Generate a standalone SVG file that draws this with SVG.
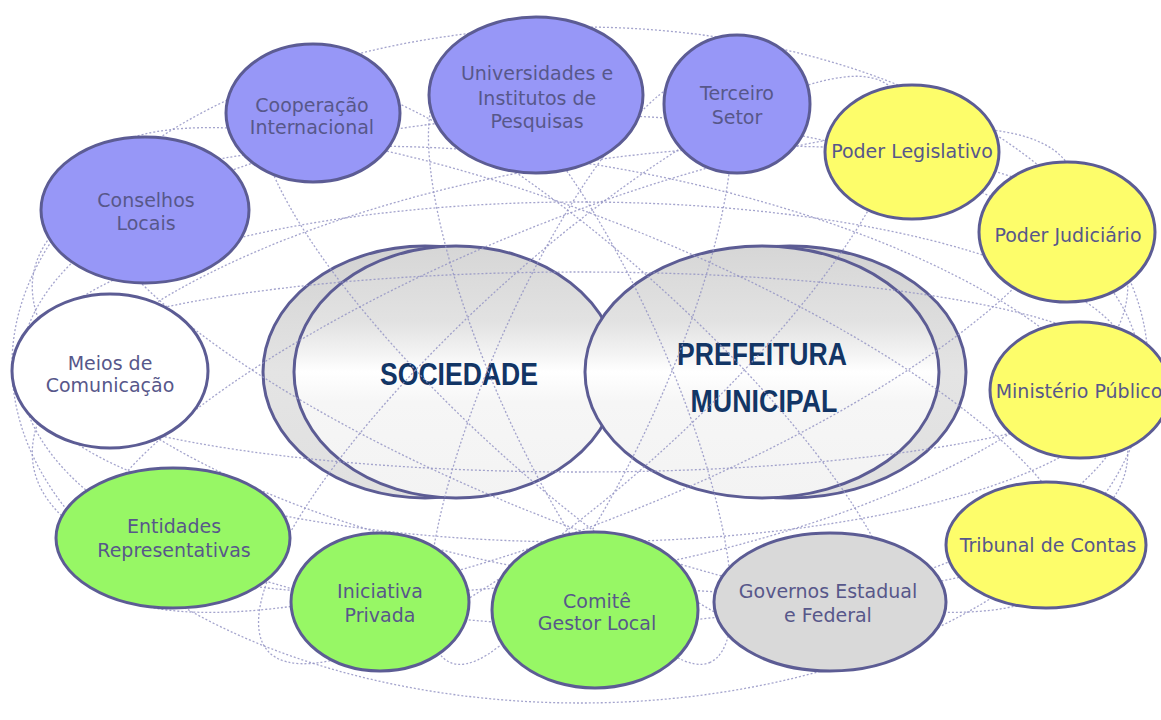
<svg xmlns="http://www.w3.org/2000/svg" width="1161" height="720" viewBox="0 0 1161 720">
  <defs>
    <linearGradient id="gloss" x1="0" y1="0" x2="0" y2="1">
      <stop offset="0" stop-color="#d6d6d6"/>
      <stop offset="0.3" stop-color="#e2e2e2"/>
      <stop offset="0.42" stop-color="#f2f2f2"/>
      <stop offset="0.5" stop-color="#ffffff"/>
      <stop offset="0.62" stop-color="#f6f6f6"/>
      <stop offset="1" stop-color="#f3f3f3"/>
    </linearGradient>
    <linearGradient id="glossBack" x1="0" y1="0" x2="0" y2="1">
      <stop offset="0" stop-color="#d2d2d2"/>
      <stop offset="0.5" stop-color="#e4e4e4"/>
      <stop offset="1" stop-color="#e0e0e0"/>
    </linearGradient>
    <style>
      .node { stroke: #5c5c94; stroke-width: 3; }
      .purple { fill: #9797f7; }
      .yellow { fill: #fdfd6a; }
      .green { fill: #97f765; }
      .grey { fill: #d9d9d9; }
      .white { fill: #ffffff; }
      .lbl { font-family: "DejaVu Sans", "Liberation Sans", sans-serif; font-size: 19px; fill: #57578a; text-anchor: middle; }
      .core { font-family: "Liberation Sans", Arial, sans-serif; font-weight: bold; font-size: 32px; fill: #123565; text-anchor: middle; }
      .orbit { fill: none; stroke: #9494c4; stroke-width: 1.3; stroke-dasharray: 2 2; opacity: 0.85; }
    </style>
  </defs>

  <rect width="1161" height="720" fill="#ffffff"/>

  <!-- central pair -->
  <g id="sociedade">
    <ellipse cx="425" cy="372" rx="162" ry="126" fill="url(#glossBack)" class="node"/>
    <ellipse cx="456" cy="372" rx="162" ry="126" fill="url(#gloss)" class="node"/>
    <text class="core" x="459" y="385" textLength="158" lengthAdjust="spacingAndGlyphs">SOCIEDADE</text>
  </g>
  <g id="prefeitura">
    <ellipse cx="790" cy="372" rx="176" ry="126" fill="url(#glossBack)" class="node"/>
    <ellipse cx="762" cy="372" rx="177" ry="126" fill="url(#gloss)" class="node"/>
    <text class="core" x="762" y="365" textLength="170" lengthAdjust="spacingAndGlyphs">PREFEITURA</text>
    <text class="core" x="764" y="412" textLength="147" lengthAdjust="spacingAndGlyphs">MUNICIPAL</text>
  </g>

  <!-- dotted orbits linking all actors -->
  <g id="connectors">
    <ellipse class="orbit" cx="580" cy="365" rx="568" ry="338"/>
    <ellipse class="orbit" cx="580" cy="370" rx="560" ry="255"/>
    <ellipse class="orbit" cx="580" cy="372" rx="555" ry="170"/>
    <ellipse class="orbit" cx="580" cy="372" rx="545" ry="100"/>
    <ellipse class="orbit" cx="580" cy="370" rx="555" ry="205" transform="rotate(10 580 370)"/>
    <ellipse class="orbit" cx="580" cy="370" rx="555" ry="205" transform="rotate(-10 580 370)"/>
    <ellipse class="orbit" cx="580" cy="370" rx="530" ry="150" transform="rotate(22 580 370)"/>
    <ellipse class="orbit" cx="580" cy="370" rx="530" ry="150" transform="rotate(-22 580 370)"/>
    <ellipse class="orbit" cx="580" cy="370" rx="420" ry="115" transform="rotate(42 580 370)"/>
    <ellipse class="orbit" cx="580" cy="370" rx="420" ry="115" transform="rotate(-42 580 370)"/>
    <ellipse class="orbit" cx="580" cy="370" rx="320" ry="85" transform="rotate(66 580 370)"/>
    <ellipse class="orbit" cx="580" cy="370" rx="320" ry="85" transform="rotate(-66 580 370)"/>
  </g>

  <!-- surrounding actors -->
  <g id="conselhos">
    <ellipse class="node purple" cx="145" cy="210" rx="104" ry="73"/>
    <text class="lbl" x="146" y="207">Conselhos</text>
    <text class="lbl" x="146" y="230">Locais</text>
  </g>
  <g id="cooperacao">
    <ellipse class="node purple" cx="313" cy="113" rx="87" ry="69"/>
    <text class="lbl" x="312" y="112">Cooperação</text>
    <text class="lbl" x="312" y="134">Internacional</text>
  </g>
  <g id="universidades">
    <ellipse class="node purple" cx="536" cy="95" rx="107" ry="78"/>
    <text class="lbl" x="537" y="80">Universidades e</text>
    <text class="lbl" x="537" y="105">Institutos de</text>
    <text class="lbl" x="537" y="128">Pesquisas</text>
  </g>
  <g id="terceiro-setor">
    <ellipse class="node purple" cx="737" cy="104" rx="73" ry="69"/>
    <text class="lbl" x="737" y="100">Terceiro</text>
    <text class="lbl" x="737" y="124">Setor</text>
  </g>
  <g id="legislativo">
    <ellipse class="node yellow" cx="912" cy="152" rx="87" ry="67"/>
    <text class="lbl" x="912" y="158">Poder Legislativo</text>
  </g>
  <g id="judiciario">
    <ellipse class="node yellow" cx="1067" cy="232" rx="88" ry="70"/>
    <text class="lbl" x="1068" y="242">Poder Judiciário</text>
  </g>
  <g id="ministerio">
    <ellipse class="node yellow" cx="1080" cy="390" rx="90" ry="68"/>
    <text class="lbl" x="1079" y="398">Ministério Público</text>
  </g>
  <g id="tribunal">
    <ellipse class="node yellow" cx="1046" cy="545" rx="100" ry="63"/>
    <text class="lbl" x="1048" y="552">Tribunal de Contas</text>
  </g>
  <g id="governos">
    <ellipse class="node grey" cx="830" cy="602" rx="116" ry="69"/>
    <text class="lbl" x="828" y="598">Governos Estadual</text>
    <text class="lbl" x="828" y="622">e Federal</text>
  </g>
  <g id="comite">
    <ellipse class="node green" cx="595" cy="610" rx="103" ry="78"/>
    <text class="lbl" x="597" y="608">Comitê</text>
    <text class="lbl" x="597" y="630">Gestor Local</text>
  </g>
  <g id="iniciativa">
    <ellipse class="node green" cx="380" cy="602" rx="89" ry="69"/>
    <text class="lbl" x="380" y="598">Iniciativa</text>
    <text class="lbl" x="380" y="622">Privada</text>
  </g>
  <g id="entidades">
    <ellipse class="node green" cx="173" cy="538" rx="117" ry="70"/>
    <text class="lbl" x="174" y="533">Entidades</text>
    <text class="lbl" x="174" y="557">Representativas</text>
  </g>
  <g id="meios">
    <ellipse class="node white" cx="110" cy="371" rx="98" ry="77"/>
    <text class="lbl" x="110" y="370">Meios de</text>
    <text class="lbl" x="110" y="392">Comunicação</text>
  </g>
</svg>
